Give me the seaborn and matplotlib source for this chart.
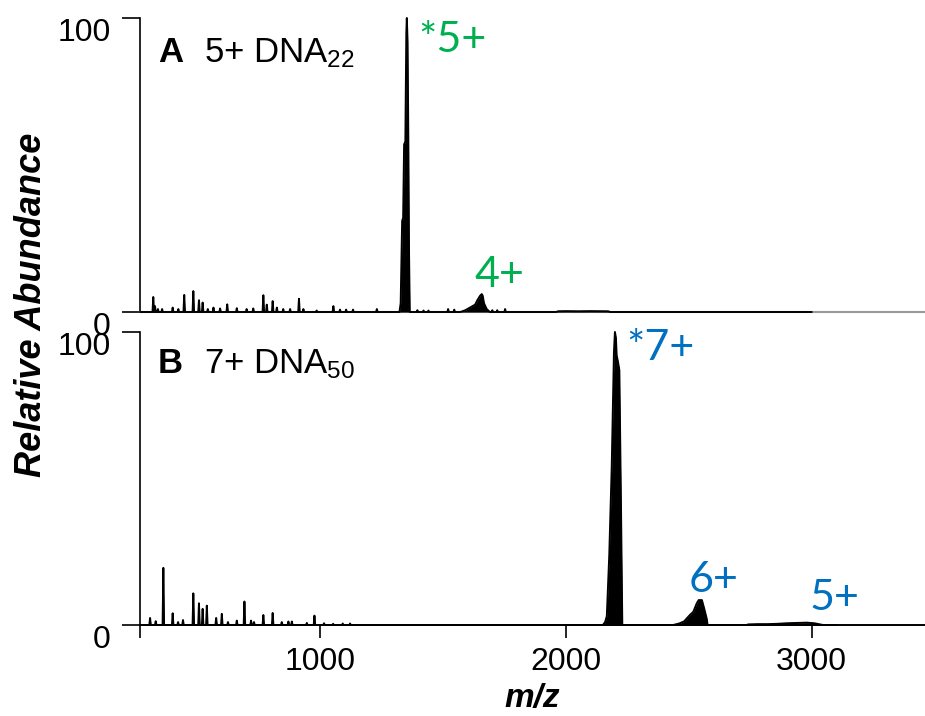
import numpy as np
import pandas as pd
import matplotlib
matplotlib.use("Agg")
import matplotlib.pyplot as plt
import seaborn as sns

# ---------------- data (m/z, relative abundance %) ----------------
# Panel A : 5+ DNA22
a_stick_mz = [320, 327, 339, 356, 399, 422, 446, 483, 506, 521, 542, 565, 592, 621,
              660, 700, 727, 768, 782, 806, 823, 849, 877, 913, 931, 985, 1053, 1080,
              1105, 1133, 1230, 1395, 1420, 1440, 1520, 1545, 1700, 1720, 1752]
a_stick_int = [5.1, 2.0, 1.0, 1.0, 1.5, 1.0, 5.8, 7.1, 4.0, 3.2, 1.0, 1.5, 1.2, 2.6,
               1.3, 1.0, 1.2, 5.7, 2.5, 3.7, 1.5, 1.0, 1.0, 4.5, 1.0, 0.5, 2.0, 0.8,
               0.8, 0.8, 1.0, 0.6, 0.5, 0.5, 1.0, 0.8, 0.6, 0.6, 1.0]
a_main_mz = [1322, 1327, 1333, 1337, 1341, 1346, 1350, 1352, 1355, 1358, 1361, 1364]
a_main_int = [0, 3, 31, 32, 57, 58, 95, 100, 92, 60, 20, 0]
a_4p_mz = [1570, 1590, 1609, 1630, 1639, 1650, 1657, 1661, 1666, 1677, 1690]
a_4p_int = [0, 0.6, 1.5, 2.5, 4.0, 5.5, 6.1, 5.5, 3.0, 1.0, 0]
a_hump_mz = [1960, 1968, 2000, 2050, 2100, 2171, 2180]
a_hump_int = [0, 0.25, 0.3, 0.25, 0.3, 0.25, 0]
a_range = [266, 3000]

# Panel B : 7+ DNA50
b_stick_mz = [307, 330, 361, 399, 421, 441, 483, 506, 521, 538, 576, 599, 624, 660,
              691, 718, 730, 768, 806, 843, 870, 884, 945, 976, 1015, 1052, 1091, 1121]
b_stick_int = [2.4, 1.3, 19.5, 4.0, 1.0, 1.7, 10.8, 7.4, 5.5, 6.6, 2.4, 3.8, 1.0, 1.5,
               8.0, 1.5, 1.0, 3.4, 4.1, 1.0, 1.2, 1.2, 0.7, 3.2, 0.6, 0.4, 0.5, 0.5]
b_main_mz = [2150, 2159, 2166, 2176, 2186, 2195, 2199, 2203, 2206, 2211, 2217, 2223, 2229]
b_main_int = [0, 1, 3, 24, 54, 93, 100, 98, 92, 90, 87, 45, 0]
b_6p_mz = [2436, 2460, 2480, 2504, 2518, 2532, 2540, 2553, 2562, 2573, 2576]
b_6p_int = [0, 0.5, 1.2, 3.4, 4.5, 7.4, 8.5, 8.5, 5.7, 2.0, 0]
b_5p_mz = [2735, 2741, 2780, 2820, 2860, 2900, 2940, 2980, 3010, 3046]
b_5p_int = [0, 0.2, 0.3, 0.3, 0.4, 0.6, 0.7, 0.8, 0.6, 0]
b_range = [266, 3100]

x_ticks = [1000, 2000, 3000]
x_lim = [266, 3461]
y_ticks = [0, 100]

# annotations: (label, m/z, abundance)
GREEN = "#00B050"
BLUE = "#0070C0"
a_notes = [("*5+", 1400, 88.4), ("4+", 1628, 8.5)]
b_notes = [("*7+", 2245, 90.4), ("6+", 2500, 11.4), ("5+", 2990, 5.1)]


def build_profile(stick_mz, stick_int, profiles, rng, hw=3.0):
    xs, ys = [rng[0], rng[1]], [0.0, 0.0]
    for m, h in zip(stick_mz, stick_int):
        xs += [m - hw, m, m + hw]
        ys += [0.0, h, 0.0]
    for pm, pi in profiles:
        xs += list(pm)
        ys += list(pi)
    df = pd.DataFrame({"mz": xs, "ab": ys}).sort_values("mz", kind="stable")
    return df.reset_index(drop=True)


df_a = build_profile(a_stick_mz, a_stick_int,
                     [(a_main_mz, a_main_int), (a_4p_mz, a_4p_int),
                      (a_hump_mz, a_hump_int)], a_range)
df_b = build_profile(b_stick_mz, b_stick_int,
                     [(b_main_mz, b_main_int), (b_6p_mz, b_6p_int),
                      (b_5p_mz, b_5p_int)], b_range)

# ---------------- style ----------------
sns.set_style("white")
plt.rcParams["font.family"] = ["Liberation Sans", "DejaVu Sans"]
plt.rcParams["text.color"] = "black"
plt.rcParams["axes.labelcolor"] = "black"
plt.rcParams["xtick.color"] = "black"
plt.rcParams["ytick.color"] = "black"
plt.rcParams["mathtext.fontset"] = "custom"
plt.rcParams["mathtext.rm"] = "Liberation Sans"
plt.rcParams["mathtext.it"] = "Liberation Sans:italic"
plt.rcParams["mathtext.bf"] = "Liberation Sans:bold"

W, H = 925, 716
fig = plt.figure(figsize=(W / 100, H / 100), dpi=100)
left = 140 / W
axA = fig.add_axes([left, 1 - 312 / H, 1 - left, (312 - 18) / H])
axB = fig.add_axes([left, 1 - 625 / H, 1 - left, (625 - 332) / H])

for ax, df in ((axA, df_a), (axB, df_b)):
    sns.lineplot(data=df, x="mz", y="ab", ax=ax, color="black", linewidth=1.4,
                 estimator=None, sort=False, clip_on=False, zorder=3)
    ax.fill_between(df["mz"], 0, df["ab"], color="black", linewidth=0, zorder=3)
    ax.set_xlim(x_lim)
    ax.set_ylim(0, 100)
    ax.set_yticks(y_ticks)
    ax.set_yticklabels([str(v) for v in y_ticks], fontsize=23, color="black")
    for lbl in ax.get_yticklabels():
        lbl.set_verticalalignment("top")
    ax.tick_params(axis="y", direction="out", length=13, width=1.2, pad=8,
                   left=True, colors="black")
    ax.set_ylabel("")
    ax.set_xlabel("")
    for s in ("top", "right"):
        ax.spines[s].set_visible(False)
    ax.spines["left"].set_linewidth(1.2)
    ax.spines["left"].set_color("black")
    ax.patch.set_alpha(0)

# top panel: grey bottom line, no x ticks
axA.spines["bottom"].set_color("#9a9a9a")
axA.spines["bottom"].set_linewidth(1.5)
axA.tick_params(axis="x", bottom=False, labelbottom=False)

# bottom panel axis
axB.spines["bottom"].set_color("black")
axB.spines["bottom"].set_linewidth(1.4)
axB.set_xticks([x_lim[0]] + x_ticks)
axB.set_xticklabels([""] + [str(v) for v in x_ticks], fontsize=23, color="black")
axB.tick_params(axis="x", direction="out", length=9, width=1.2, pad=7,
                bottom=True, colors="black")
axB.set_xlabel("m/z", fontsize=24, fontweight="bold", fontstyle="italic",
               labelpad=4, color="black")

# panel titles
axA.text(339, 85.1, "A", fontsize=25, fontweight="bold", va="baseline", ha="left")
axA.text(527, 85.1, r"5+ DNA$_{\mathrm{22}}$", fontsize=25, va="baseline", ha="left")
axB.text(339, 86.0, "B", fontsize=25, fontweight="bold", va="baseline", ha="left")
axB.text(527, 86.0, r"7+ DNA$_{\mathrm{50}}$", fontsize=25, va="baseline", ha="left")

for txt, m, y in a_notes:
    axA.text(m, y, txt, color=GREEN, fontsize=31, family=["Lato", "DejaVu Sans"],
             va="baseline", ha="left")
for txt, m, y in b_notes:
    axB.text(m, y, txt, color=BLUE, fontsize=31, family=["Lato", "DejaVu Sans"],
             va="baseline", ha="left")

fig.text(32 / W, 1 - 305 / H, "Relative Abundance", rotation=90, fontsize=26,
         fontweight="bold", fontstyle="italic", ha="center", va="center")

fig.savefig("out.png", dpi=100)
